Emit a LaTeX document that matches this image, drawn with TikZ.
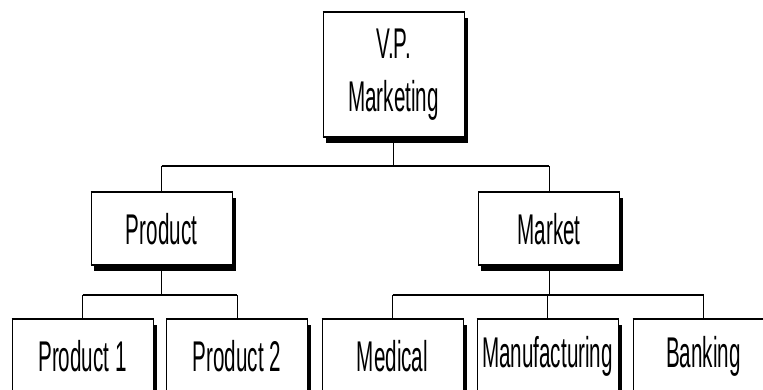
\documentclass[tikz,border=0pt]{standalone}
\usepackage{fontspec}
\newfontfamily\narrowf[FakeStretch=0.48]{Liberation Sans}
\usetikzlibrary{calc}
\begin{document}
\begin{tikzpicture}[x=1pt,y=1pt,
  orgbox/.style={draw=black, line width=1pt, fill=white, minimum width=141pt,
    inner sep=0pt, align=center,
    font=\narrowf\fontsize{43}{53}\selectfont},
  smallbox/.style={orgbox, minimum height=72pt},
  vline/.style={draw=black, line width=1pt},
  hline/.style={draw=black, line width=2pt},
  shadowst/.style={fill=black}]
\fill[white] (0,0) rectangle (763,390);
\useasboundingbox (0,0) rectangle (763,390);
% nodes
\node[orgbox, minimum height=124pt] (vp) at (393.5,315) {V.P.\\Marketing};
\node[smallbox] (prod) at (161.5,161) {Product};
\node[smallbox] (mkt) at (549,161) {Market};
\node[smallbox] (p1) at (82.5,34) {Product 1};
\node[smallbox] (p2) at (237,34) {Product 2};
\node[smallbox] (med) at (392.5,34) {Medical};
\node[smallbox] (man) at (547.5,34) {Manufacturing};
\node[smallbox] (bank) at (703.5,34) {Banking};
% shadows (L-shaped band below and right of each box) and thicker horizontal borders
\foreach \nn in {vp,prod,mkt,p1,p2,med,man,bank}{
  \fill[shadowst] ($(\nn.south west)+(3,-6)$) rectangle ($(\nn.south east)+(3,0)$);
  \fill[shadowst] ($(\nn.south east)+(0,-6)$) rectangle ($(\nn.north east)+(3,-6)$);
  \draw[hline] (\nn.north west) -- (\nn.north east) (\nn.south west) -- (\nn.south east);
}
% bus coordinates
\coordinate (b1) at (393.5,224);
\coordinate (b2) at (161.5,95);
\coordinate (b3) at (549,95);
% connectors
\draw[vline] (vp.south) -- (b1);
\draw[hline] (prod.north |- b1) -- (mkt.north |- b1);
\draw[vline] (prod.north |- b1) -- (prod.north);
\draw[vline] (mkt.north |- b1) -- (mkt.north);
\draw[vline] (prod.south) -- (b2);
\draw[hline] (p1.north |- b2) -- (p2.north |- b2);
\draw[vline] (p1.north |- b2) -- (p1.north);
\draw[vline] (p2.north |- b2) -- (p2.north);
\draw[vline] (mkt.south) -- (b3);
\draw[hline] (med.north |- b3) -- (bank.north |- b3);
\draw[vline] (med.north |- b3) -- (med.north);
\draw[vline] (man.north |- b3) -- (man.north);
\draw[vline] (bank.north |- b3) -- (bank.north);
\end{tikzpicture}
\end{document}
